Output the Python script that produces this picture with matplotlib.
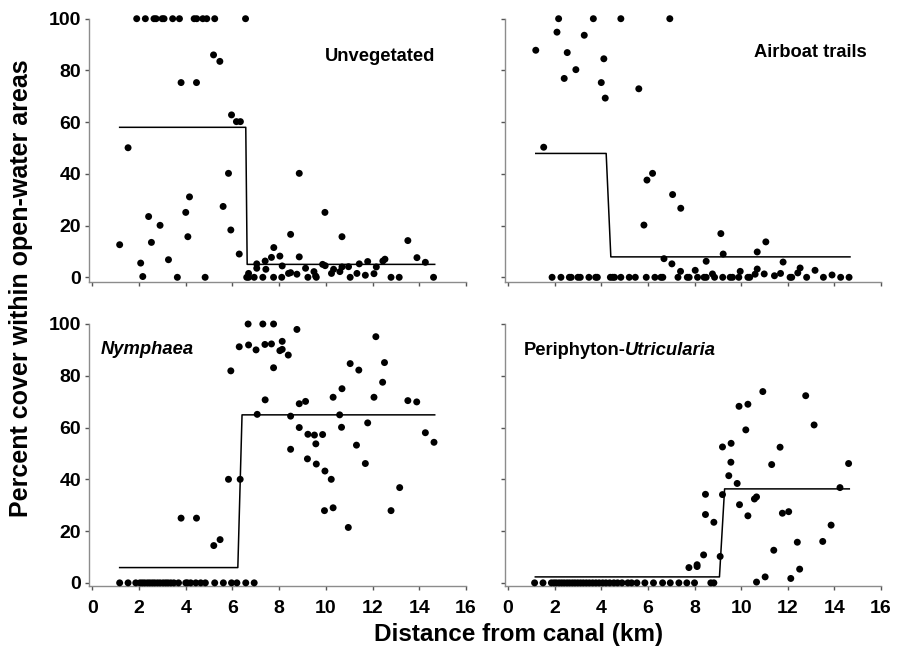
import matplotlib
matplotlib.use("Agg")
import matplotlib.pyplot as plt

plt.rcParams["font.family"] = ["Liberation Sans", "DejaVu Sans"]
plt.rcParams["font.weight"] = "bold"

# ---------------------------------------------------------------
# Data (distance in km, percent cover)
# ---------------------------------------------------------------
unveg_x = [1.90, 2.27, 2.64, 2.73, 2.99, 3.07, 3.44, 3.73, 4.36, 4.47, 4.73, 4.90, 5.24, 6.56,
           5.19, 5.46, 3.80, 4.46, 5.96, 6.17, 6.34, 1.53, 5.83, 4.16, 4.00, 2.41, 2.90, 5.60,
           4.09, 5.93, 1.17, 2.53, 3.26, 2.07, 6.29, 2.16, 3.64, 4.83,
           8.86, 9.96, 8.49, 10.69, 13.51, 7.77, 7.67, 8.03, 8.86, 13.90, 14.26, 7.04, 7.40,
           7.04, 7.43, 8.13, 9.13, 9.49, 9.86, 9.97, 10.33, 10.24, 10.60, 10.69, 10.97, 11.43,
           11.33, 11.79, 12.16, 12.44, 12.53, 11.69, 12.06, 8.40, 8.49, 8.76, 9.56, 6.69,
           6.61, 6.69, 6.93, 7.30, 7.76, 8.11, 9.23, 9.59, 11.04, 12.79, 13.14, 14.61]
unveg_y = [100, 100, 100, 100, 100, 100, 100, 100, 100, 100, 100, 100, 100, 100,
           86.0, 83.5, 75.3, 75.3, 62.8, 60.2, 60.2, 50.1, 40.2, 31.1, 25.1, 23.5, 20.1, 27.4,
           15.7, 18.3, 12.6, 13.5, 6.8, 5.5, 9.0, 0.3, 0, 0,
           40.2, 25.1, 16.6, 15.7, 14.2, 11.5, 7.7, 8.2, 7.9, 7.6, 5.8, 5.2, 6.3,
           3.5, 3.1, 4.4, 3.5, 2.2, 5.0, 4.5, 3.1, 1.5, 2.2, 4.0, 4.1, 5.2,
           1.5, 6.1, 4.0, 6.3, 7.0, 0.8, 1.4, 1.5, 1.8, 1.2, 0.5, 1.5,
           0, 0, 0, 0, 0, 0, 0, 0, 0, 0, 0, 0]
unveg_fit_x = [1.17, 6.57, 6.63, 14.66]
unveg_fit_y = [58.0, 58.0, 5.0, 5.0]

air_x = [2.17, 3.66, 4.84, 6.94, 2.10, 3.27, 1.19, 2.54, 4.11, 2.91, 2.41, 4.00, 5.61, 4.17,
         1.53, 6.20, 5.96, 7.06, 7.41, 5.83, 9.13, 11.06, 9.23, 10.69, 6.69, 7.03, 8.50,
         11.80, 8.03, 7.40, 9.96, 10.69, 10.99, 11.69, 12.53, 12.43, 13.17, 13.90, 8.77,
         10.60, 11.43,
         1.89, 2.27, 2.63, 2.71, 3.00, 3.10, 3.47, 3.76, 3.83, 4.39, 4.49, 4.57, 4.84, 5.20,
         5.46, 5.93, 6.30, 6.56, 6.64, 7.29, 7.69, 7.77, 8.13, 8.41, 8.50, 8.86, 9.21, 9.53,
         9.63, 9.90, 10.29, 10.37, 12.10, 12.17, 12.81, 13.53, 14.27, 14.63]
air_y = [100, 100, 100, 100, 94.8, 93.6, 87.8, 86.9, 84.5, 80.3, 76.9, 75.3, 72.9, 69.3,
         50.3, 40.2, 37.6, 32.0, 26.7, 20.2, 16.9, 13.7, 9.0, 9.8, 7.2, 5.2, 6.2,
         5.9, 2.7, 2.3, 2.3, 3.2, 1.3, 1.5, 3.6, 1.7, 2.7, 0.9, 1.3,
         1.2, 0.6,
         0, 0, 0, 0, 0, 0, 0, 0, 0, 0, 0, 0, 0, 0,
         0, 0, 0, 0, 0, 0, 0, 0, 0, 0, 0, 0, 0, 0,
         0, 0, 0, 0, 0, 0, 0, 0, 0, 0]
air_fit_x = [1.19, 4.21, 4.41, 14.67]
air_fit_y = [47.9, 47.9, 7.9, 7.9]

nym_x = [6.67, 7.30, 7.76, 8.76, 12.14, 6.29, 6.69, 7.01, 7.39, 7.67, 8.13, 8.03, 8.13, 8.39,
         5.93, 7.76, 11.04, 11.41, 12.51, 12.43, 10.69, 10.31, 12.06, 7.40, 8.86, 9.13,
         13.51, 13.89, 7.06, 8.49, 10.59, 8.86, 10.67, 11.79, 9.23, 9.51, 9.86, 9.57, 8.49,
         11.31, 14.26, 14.63, 9.21, 9.59, 9.96, 11.69, 10.23, 13.16, 5.83, 6.33, 9.94,
         10.31, 12.79, 10.96, 3.80, 4.46, 5.20, 5.47,
         1.17, 1.53, 1.86, 2.04, 2.14, 2.24, 2.36, 2.46, 2.57, 2.67, 2.79, 2.90, 3.03, 3.14,
         3.24, 3.36, 3.49, 3.69, 4.00, 4.07, 4.21, 4.43, 4.64, 4.84, 5.24, 5.61, 5.96, 6.19,
         6.57, 6.93]
nym_y = [100, 100, 100, 97.9, 95.1, 91.2, 91.9, 90.0, 92.1, 92.3, 93.3, 89.7, 90.2, 88.0,
         81.9, 83.1, 84.7, 82.2, 85.1, 77.5, 75.0, 71.7, 71.7, 70.7, 69.2, 70.1,
         70.4, 69.9, 65.1, 64.4, 64.9, 60.0, 60.1, 61.8, 57.4, 57.1, 57.3, 53.7, 51.6,
         53.2, 58.0, 54.3, 47.9, 45.9, 43.2, 46.1, 40.0, 36.8, 40.0, 40.0, 27.9,
         29.0, 27.9, 21.4, 25.0, 25.0, 14.4, 16.7,
         0, 0, 0, 0, 0, 0, 0, 0, 0, 0, 0, 0, 0, 0,
         0, 0, 0, 0, 0, 0, 0, 0, 0, 0, 0, 0, 0, 0,
         0, 0]
nym_fit_x = [1.17, 6.23, 6.41, 14.66]
nym_fit_y = [5.9, 5.9, 64.9, 64.9]

peri_x = [10.93, 12.77, 9.91, 10.29, 13.13, 10.20, 9.20, 9.57, 11.67, 9.56, 11.31, 14.61,
          9.47, 9.83, 14.24, 8.47, 9.20, 10.66, 10.57, 9.93, 12.04, 11.77, 8.47, 10.29,
          8.83, 13.86, 13.50, 12.41, 11.40, 8.39, 9.10, 7.76, 8.11, 8.11, 12.51, 11.03,
          12.13, 10.66,
          1.14, 1.50, 1.86, 1.97, 2.07, 2.19, 2.30, 2.41, 2.53, 2.64, 2.76, 2.87, 2.99, 3.11,
          3.23, 3.36, 3.49, 3.63, 3.77, 3.91, 4.06, 4.20, 4.36, 4.54, 4.70, 4.89, 5.14, 5.30,
          5.53, 5.87, 6.24, 6.63, 6.96, 7.33, 7.67, 8.00, 8.70, 8.83]
peri_y = [73.9, 72.3, 68.2, 69.0, 61.0, 59.1, 52.5, 53.9, 52.4, 46.6, 45.7, 46.1,
          41.4, 38.4, 36.8, 34.2, 34.1, 33.2, 32.4, 30.2, 27.5, 26.9, 26.4, 25.9,
          23.4, 22.3, 16.0, 15.7, 12.6, 10.8, 10.2, 5.9, 7.0, 6.3, 5.3, 2.3,
          1.7, 0.3,
          0, 0, 0, 0, 0, 0, 0, 0, 0, 0, 0, 0, 0, 0,
          0, 0, 0, 0, 0, 0, 0, 0, 0, 0, 0, 0, 0, 0,
          0, 0, 0, 0, 0, 0, 0, 0, 0, 0]
peri_fit_x = [1.17, 9.07, 9.29, 14.64]
peri_fit_y = [2.3, 2.3, 36.3, 36.3]

x_ticks = [0, 2, 4, 6, 8, 10, 12, 14, 16]
y_ticks = [0, 20, 40, 60, 80, 100]

SPINE = "#8c8c8c"

fig = plt.figure(figsize=(9.04, 6.54), dpi=100)
W, H = 904.0, 654.0


def make_ax(left, top, right, bottom):
    return fig.add_axes([left / W, 1 - bottom / H, (right - left) / W, (bottom - top) / H])


ax_tl = make_ax(89.3, 18.7, 466.0, 281.7)
ax_tr = make_ax(505.0, 18.7, 881.0, 281.7)
ax_bl = make_ax(89.3, 324.0, 466.0, 585.7)
ax_br = make_ax(505.0, 324.0, 881.0, 585.7)

panels = [
    (ax_tl, unveg_x, unveg_y, unveg_fit_x, unveg_fit_y, -1.7),
    (ax_tr, air_x, air_y, air_fit_x, air_fit_y, -1.7),
    (ax_bl, nym_x, nym_y, nym_fit_x, nym_fit_y, -1.1),
    (ax_br, peri_x, peri_y, peri_fit_x, peri_fit_y, -1.1),
]

for ax, xs, ys, fx, fy, ybot in panels:
    ax.scatter(xs, ys, s=25, color="black", edgecolors="none", clip_on=False, zorder=3)
    ax.plot(fx, fy, color="black", lw=1.1, zorder=2)
    ax.set_xlim(-0.13, 16)
    ax.set_ylim(ybot, 100)
    ax.set_xticks(x_ticks)
    ax.set_yticks(y_ticks)
    for side in ("top", "right"):
        ax.spines[side].set_visible(False)
    for side in ("left", "bottom"):
        ax.spines[side].set_color(SPINE)
        ax.spines[side].set_linewidth(1.0)
    ax.tick_params(direction="out", length=3.0, width=1.0, color="#555555",
                   labelsize=14)
    ax.tick_params(axis="x", pad=7)
    ax.tick_params(axis="y", pad=3)

for ax in (ax_tl, ax_tr):
    ax.tick_params(labelbottom=False)
for ax in (ax_tr, ax_br):
    ax.tick_params(labelleft=False)
for ax in (ax_bl, ax_br):
    for lab in ax.get_xticklabels():
        lab.set_fontweight("bold")
for ax in (ax_tl, ax_bl):
    for lab in ax.get_yticklabels():
        lab.set_fontweight("bold")

ax_tl.text(0.918, 0.858, "Unvegetated", transform=ax_tl.transAxes, ha="right", va="center",
           fontsize=13.2, fontweight="bold")
ax_tr.text(0.963, 0.871, "Airboat trails", transform=ax_tr.transAxes, ha="right",
           va="center", fontsize=13.2, fontweight="bold")
ax_bl.text(0.030, 0.903, "Nymphaea", transform=ax_bl.transAxes, ha="left", va="center",
           fontsize=13.2, fontweight="bold", style="italic")
t1 = ax_br.text(0.049, 0.88, "Periphyton-", transform=ax_br.transAxes, ha="left",
                va="baseline", fontsize=13.2, fontweight="bold")
ax_br.annotate("Utricularia", xy=(1, 0), xycoords=t1, ha="left", va="bottom",
               fontsize=13.2, fontweight="bold", style="italic")

fig.text(519 / W, 1 - 634 / H, "Distance from canal (km)", ha="center",
         va="center", fontsize=17.5, fontweight="bold")
fig.text(21 / W, 1 - 288 / H, "Percent cover within open-water areas", ha="center",
         va="center", rotation=90, fontsize=18, fontweight="bold")

fig.savefig("out.png", dpi=100)
